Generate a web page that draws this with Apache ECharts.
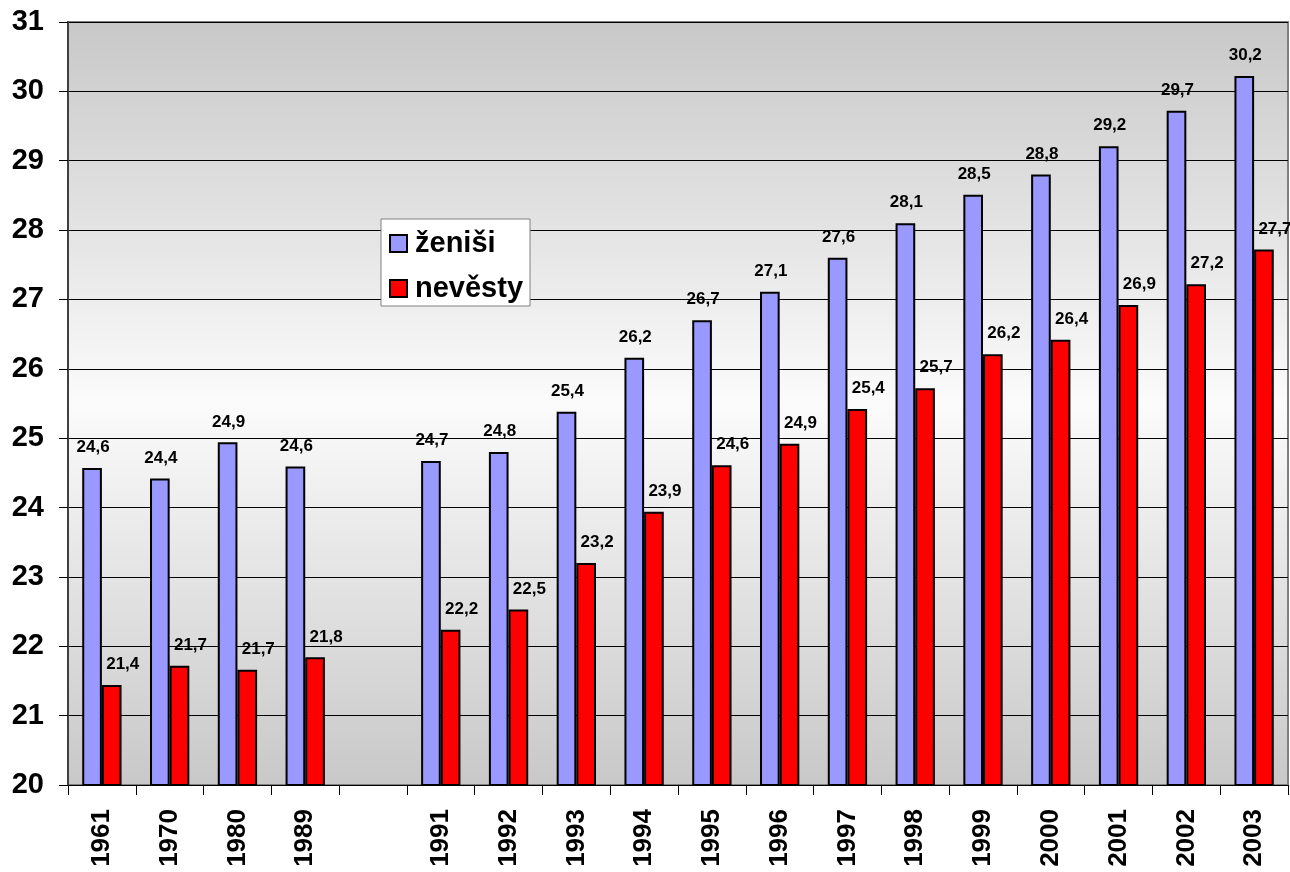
<!DOCTYPE html>
<html>
<head>
<meta charset="utf-8">
<script src="https://cdn.jsdelivr.net/npm/echarts@6/dist/echarts.min.js"></script>
<style>
    html, body { margin: 0; padding: 0; background: #fff; }
    #main { width: 1290px; height: 872px; }
</style>
</head>
<body>
<div id="main"></div>
<script>
// roky (prazdna kategorie = mezera mezi 1989 a 1991)
var years = ['1961', '1970', '1980', '1989', '', '1991', '1992', '1993', '1994', '1995', '1996', '1997', '1998', '1999', '2000', '2001', '2002', '2003'];
// prumerny vek zenichu
var zenisi = [24.57, 24.42, 24.94, 24.59, null, 24.67, 24.80, 25.38, 26.16, 26.70, 27.11, 27.60, 28.10, 28.51, 28.80, 29.21, 29.72, 30.22];
// prumerny vek nevest
var nevesty = [21.44, 21.72, 21.66, 21.84, null, 22.24, 22.53, 23.20, 23.94, 24.61, 24.92, 25.42, 25.72, 26.21, 26.42, 26.92, 27.22, 27.72];
var yMin = 20, yMax = 31, yStep = 1;

var font = 'Liberation Sans, Arial, sans-serif';

function fmt(p) {
    return p.value == null ? '' : p.value.toFixed(1).replace('.', ',');
}

var myChart = echarts.init(document.getElementById('main'));
var option = {
    animation: false,
    textStyle: { fontFamily: font, color: '#000' },
    grid: {
        left: 68,
        right: 2,
        top: 22,
        bottom: 87,
        show: true,
        borderColor: '#808080',
        borderWidth: 2,
        backgroundColor: new echarts.graphic.LinearGradient(0, 0, 0, 1, [
            {offset: 0, color: '#c8c8c8'},
            {offset: 0.5, color: '#fbfbfb'},
            {offset: 1, color: '#c8c8c8'}
        ])
    },
    legend: {
        orient: 'vertical',
        left: 381,
        top: 219,
        backgroundColor: '#fff',
        borderColor: '#808080',
        borderWidth: 1,
        padding: [10, 7, 3, 8],
        itemWidth: 17,
        itemHeight: 17,
        itemGap: 16,
        icon: 'rect',
        textStyle: {
            fontFamily: font,
            fontSize: 29,
            fontWeight: 'bold',
            color: '#000',
            lineHeight: 26,
            padding: [0, 0, 0, 3]
        },
        data: ['ženiši', 'nevěsty']
    },
    xAxis: {
        type: 'category',
        data: years,
        axisLine: { lineStyle: { color: '#000', width: 1 } },
        axisTick: { show: true, interval: 0, length: 10, lineStyle: { color: '#000' } },
        axisLabel: {
            interval: 0,
            rotate: 90,
            margin: 24,
            fontFamily: font,
            fontSize: 26,
            fontWeight: 'bold',
            color: '#000'
        }
    },
    yAxis: {
        type: 'value',
        min: yMin,
        max: yMax,
        interval: yStep,
        axisLine: { show: true, lineStyle: { color: '#404040', width: 2 } },
        axisTick: { show: true, inside: false, length: 9, lineStyle: { color: '#000' } },
        axisLabel: {
            margin: 24,
            fontFamily: font,
            fontSize: 29,
            fontWeight: 'bold',
            color: '#000'
        },
        splitLine: { show: true, lineStyle: { color: '#000', width: 1 } }
    },
    series: [
        {
            name: 'ženiši',
            type: 'bar',
            data: zenisi,
            barGap: '0%',
            barCategoryGap: '42%',
            itemStyle: { color: '#9999ff', borderColor: '#000', borderWidth: 2 },
            label: {
                show: true,
                position: 'top',
                distance: 12,
                offset: [1, 0],
                formatter: fmt,
                fontFamily: font,
                fontSize: 17,
                fontWeight: 'bold',
                color: '#000'
            }
        },
        {
            name: 'nevěsty',
            type: 'bar',
            data: nevesty,
            barGap: '0%',
            barCategoryGap: '42%',
            itemStyle: { color: '#ff0000', borderColor: '#000', borderWidth: 2 },
            label: {
                show: true,
                position: 'top',
                distance: 12,
                offset: [11, 0],
                formatter: fmt,
                fontFamily: font,
                fontSize: 17,
                fontWeight: 'bold',
                color: '#000'
            }
        }
    ]
};
myChart.setOption(option, true);
window.onresize = function () {
    myChart.resize();
};
</script>
</body>
</html>
